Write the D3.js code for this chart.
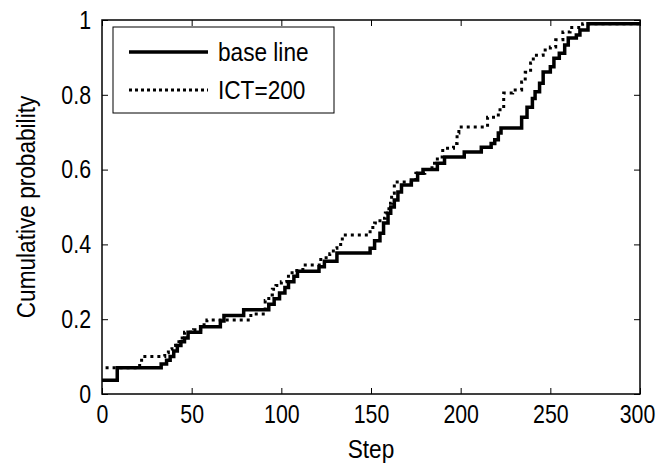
<!DOCTYPE html>
<html>
<head>
<meta charset="utf-8">
<script src="https://cdn.jsdelivr.net/npm/d3@7"></script>
<style>
  body { margin: 0; background: #fff; }
  text { font-family: "Liberation Sans", Arial, sans-serif; fill: #000; }
</style>
</head>
<body>
<div id="chart-area"></div>
<script>
// ECDF steps: [step, cumulative probability]
var baseSteps = [
    [0, 0.037], [8.5, 0.07], [33, 0.08], [36, 0.09], [38, 0.10], [40, 0.115], [42, 0.13],
    [44, 0.14], [46, 0.15], [48, 0.165], [55, 0.18], [66, 0.195], [68, 0.21], [79, 0.225],
    [93, 0.24], [96, 0.255], [99, 0.27], [102, 0.285], [104, 0.30], [107, 0.315], [109, 0.328],
    [121, 0.34], [124, 0.355], [131, 0.377], [149.5, 0.39], [152, 0.41], [155, 0.43],
    [157, 0.457], [159.5, 0.483], [161, 0.50], [163, 0.519], [165, 0.54], [167, 0.559],
    [172.5, 0.572], [176, 0.59], [179, 0.60], [187, 0.617], [191, 0.634], [202, 0.647],
    [211.5, 0.66], [217, 0.67], [219, 0.68], [221, 0.698], [222.5, 0.711], [234, 0.74],
    [237, 0.767], [240, 0.79], [241.5, 0.808], [244, 0.831], [246, 0.861], [250, 0.875],
    [252, 0.898], [255, 0.911], [258, 0.933], [260, 0.952], [264.5, 0.96], [266.5, 0.973],
    [271, 0.99], [300, 0.99]
];

var ictSteps = [
    [2, 0.07], [21, 0.09], [23, 0.10], [35, 0.11], [37, 0.12], [39, 0.13], [41, 0.14],
    [43, 0.15], [46, 0.165], [51, 0.172], [55, 0.185], [58.5, 0.198], [83, 0.214], [91, 0.25],
    [93, 0.265], [95, 0.28], [97, 0.29], [100, 0.30], [103, 0.315], [106, 0.33], [112, 0.345],
    [122, 0.364], [127, 0.375], [129, 0.39], [131, 0.40], [134, 0.425], [149.5, 0.445],
    [152, 0.457], [155, 0.47], [158, 0.484], [160, 0.51], [161.5, 0.537], [163, 0.567],
    [175, 0.59], [180, 0.60], [184, 0.617], [187, 0.634], [190, 0.657], [196, 0.67],
    [198, 0.698], [199, 0.714], [215, 0.74], [221, 0.76], [224, 0.805], [229, 0.813],
    [234, 0.834], [236, 0.86], [239, 0.885], [240.5, 0.906], [246, 0.92], [250, 0.928],
    [253, 0.947], [257, 0.968], [261, 0.98], [268, 0.99], [300, 0.99]
];

var xTicks = [0, 50, 100, 150, 200, 250, 300];
var yTicks = [0, 0.2, 0.4, 0.6, 0.8, 1];
var seriesNames = ["base line", "ICT=200"];

var margin = { left: 102, right: 20, top: 20, bottom: 74 };
var width = 660 - margin.left - margin.right,
    height = 468 - margin.top - margin.bottom;

var svg = d3.select("#chart-area")
    .append("svg")
    .attr("width", 660)
    .attr("height", 468);

var g = svg.append("g")
    .attr("transform", "translate(" + margin.left + "," + margin.top + ")");

var x = d3.scaleLinear().domain([0, 300]).range([0, width]);
var y = d3.scaleLinear().domain([0, 1]).range([height, 0]);

var fontSize = "26px";

// matlab font is tall and narrow, squeeze the glyphs a bit
function squeeze(sel, k) {
    sel.each(function(){
        var len = this.getComputedTextLength();
        d3.select(this)
            .attr("textLength", len * (k || 0.87))
            .attr("lengthAdjust", "spacingAndGlyphs");
    });
}

// axes, ticks pointing inward like matlab
var xAxisCall = d3.axisBottom(x).tickValues(xTicks).tickSizeInner(-6).tickSizeOuter(0).tickPadding(11);
var xAxis = g.append("g")
    .attr("transform", "translate(0," + height + ")")
    .call(xAxisCall);

var yAxisCall = d3.axisLeft(y).tickValues(yTicks).tickSizeInner(-6).tickSizeOuter(0).tickPadding(11)
    .tickFormat(function(d){ return d; });
var yAxis = g.append("g").call(yAxisCall);

g.append("g")
    .call(d3.axisTop(x).tickValues(xTicks).tickSizeInner(-6).tickSizeOuter(0).tickFormat(""));
g.append("g")
    .attr("transform", "translate(" + width + ",0)")
    .call(d3.axisRight(y).tickValues(yTicks).tickSizeInner(-6).tickSizeOuter(0).tickFormat(""));

g.selectAll(".domain").remove();
g.selectAll(".tick line").attr("stroke", "#000").attr("stroke-width", 1);
g.selectAll(".tick text")
    .attr("font-size", fontSize)
    .attr("font-family", null)
    .call(squeeze, 0.82);

// the last x label sits right on the edge, nudge it in
xAxis.selectAll(".tick:last-of-type text").attr("dx", "-3");

g.append("rect")
    .attr("x", 0)
    .attr("y", 0)
    .attr("width", width)
    .attr("height", height)
    .attr("fill", "none")
    .attr("stroke", "#000")
    .attr("stroke-width", 1.5);

// lines
var line = d3.line()
    .x(function(d){ return x(d[0]); })
    .y(function(d){ return y(d[1]); })
    .curve(d3.curveStepAfter);

g.append("path")
    .datum(ictSteps)
    .attr("d", line)
    .attr("fill", "none")
    .attr("stroke", "#000")
    .attr("stroke-width", 3)
    .attr("stroke-dasharray", "3,4");

g.append("path")
    .datum(baseSteps)
    .attr("d", line)
    .attr("fill", "none")
    .attr("stroke", "#000")
    .attr("stroke-width", 3.5);

// labels
svg.append("text")
    .attr("x", margin.left + width / 2)
    .attr("y", 458)
    .attr("font-size", fontSize)
    .attr("text-anchor", "middle")
    .text("Step")
    .call(squeeze);

svg.append("text")
    .attr("transform", "translate(35," + (margin.top + height / 2) + ") rotate(-90)")
    .attr("font-size", fontSize)
    .attr("text-anchor", "middle")
    .text("Cumulative probability")
    .call(squeeze);

// legend
var legend = svg.append("g").attr("transform", "translate(113,27)");
legend.append("rect")
    .attr("width", 221)
    .attr("height", 86)
    .attr("fill", "#fff")
    .attr("stroke", "#000")
    .attr("stroke-width", 1);

seriesNames.forEach(function(name, i){
    var ly = 25 + i * 38;
    legend.append("line")
        .attr("x1", 16).attr("x2", 95)
        .attr("y1", ly).attr("y2", ly)
        .attr("stroke", "#000")
        .attr("stroke-width", i == 0 ? 3.5 : 3)
        .attr("stroke-dasharray", i == 0 ? null : "3,3");
    legend.append("text")
        .attr("x", 105)
        .attr("y", ly + 9)
        .attr("font-size", fontSize)
        .text(name)
        .call(squeeze);
});
</script>
</body>
</html>
